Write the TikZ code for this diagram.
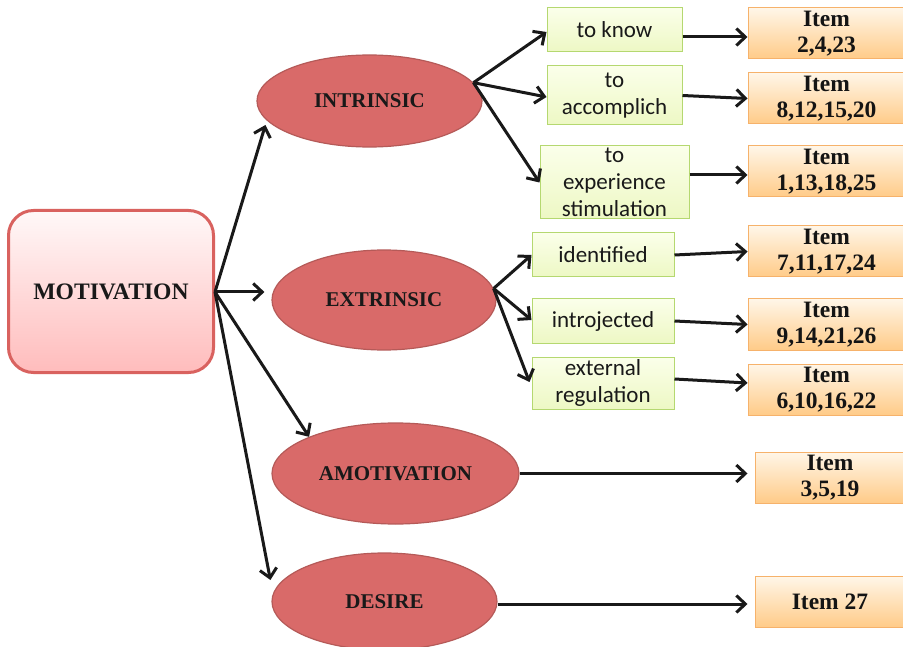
\documentclass[tikz,border=0pt]{standalone}
\usepackage{fontspec}
\setmainfont{Liberation Serif}
\newfontfamily\calfont{Carlito}
\usetikzlibrary{shapes.geometric,arrows.meta}
\definecolor{ellfill}{HTML}{D96A69}
\definecolor{ellborder}{HTML}{B55A58}
\definecolor{motborder}{HTML}{D9625F}
\definecolor{mottop}{HTML}{FFF8F8}
\definecolor{motbot}{HTML}{FFBCBC}
\definecolor{gborder}{HTML}{B5D870}
\definecolor{gtop}{HTML}{FBFFEA}
\definecolor{gbot}{HTML}{EDF8C4}
\definecolor{oborder}{HTML}{F6B26B}
\definecolor{otop}{HTML}{FFF6E8}
\definecolor{obot}{HTML}{FFCB88}
\begin{document}
\begin{tikzpicture}[x=1pt,y=-1pt,
 conn/.style={draw=black!90, line width=3pt, -{Straight Barb[length=9pt,width=17pt]}},
 ell/.style={ellipse, draw=ellborder, fill=ellfill, line width=1.2pt, inner sep=0pt,
   font=\fontsize{21}{24}\selectfont\bfseries, text=black!90},
 motbox/.style={rectangle, rounded corners=25pt, draw=motborder, line width=3pt,
   top color=mottop, bottom color=motbot, inner sep=0pt,
   font=\fontsize{23.6}{26}\selectfont\bfseries, text=black!90},
 greenbox/.style={rectangle, draw=gborder, line width=1pt, top color=gtop, bottom color=gbot,
   inner sep=0pt, font=\calfont\fontsize{23}{27}\selectfont, align=center, text=black!90},
 itembox/.style={rectangle, draw=oborder, line width=1pt, top color=otop, bottom color=obot,
   inner sep=0pt, font=\fontsize{23.5}{26}\selectfont\bfseries, align=center, text=black!92},
]
\useasboundingbox (0,0) rectangle (903,647);
\fill[white] (0,0) rectangle (903,647);

% main
\node[motbox, minimum width=205pt, minimum height=162pt] (mot) at (111,291.5) {MOTIVATION};

% ellipses
\node[ell, minimum width=225pt, minimum height=92pt] (intr) at (369.5,101) {INTRINSIC};
\node[ell, minimum width=224pt, minimum height=100pt] (extr) at (384,300) {EXTRINSIC};
\node[ell, minimum width=247pt, minimum height=101pt] (amot) at (395.5,473.5) {AMOTIVATION};
\node[ell, minimum width=225pt, minimum height=97pt] (des) at (384.5,601.5) {DESIRE};

% green boxes
\node[greenbox, minimum width=135pt, minimum height=44pt] (know) at (614.5,30) {to know};
\node[greenbox, minimum width=135pt, minimum height=59pt] (acc) at (614.5,95.5) {to\\accomplich};
\node[greenbox, minimum width=149pt, minimum height=73pt] (exp) at (614.5,182.5) {to\\experience\\stimulation};
\node[greenbox, minimum width=142pt, minimum height=44pt] (ide) at (603,255) {identified};
\node[greenbox, minimum width=142pt, minimum height=44pt] (intro) at (603,321) {introjected};
\node[greenbox, minimum width=142pt, minimum height=52pt] (ext) at (603,383) {external\\regulation};

% item boxes
\node[itembox, minimum width=157pt, minimum height=51pt] (i1) at (826.5,33.5) {Item\\2,4,23};
\node[itembox, minimum width=157pt, minimum height=51pt] (i2) at (826.5,98.5) {Item\\8,12,15,20};
\node[itembox, minimum width=157pt, minimum height=51pt] (i3) at (826.5,171.5) {Item\\1,13,18,25};
\node[itembox, minimum width=157pt, minimum height=51pt] (i4) at (826.5,251.5) {Item\\7,11,17,24};
\node[itembox, minimum width=157pt, minimum height=51pt] (i5) at (826.5,324.5) {Item\\9,14,21,26};
\node[itembox, minimum width=157pt, minimum height=51pt] (i6) at (826.5,389.5) {Item\\6,10,16,22};
\node[itembox, minimum width=150pt, minimum height=51pt] (i7) at (830,477.5) {Item\\3,5,19};
\node[itembox, minimum width=150pt, minimum height=51pt] (i8) at (830,602) {Item 27};

% connectors from MOTIVATION
\coordinate (m0) at ([yshift=-0.5pt]mot.east);
\draw[conn] (m0) -- ([xshift=9pt,yshift=-24pt]intr.west);
\draw[conn, shorten >=7pt] (m0) -- (m0 -| extr.west);
\draw[conn] (m0) -- (amot.157);
\draw[conn] (m0) -- ([xshift=-1pt,yshift=21.5pt]des.west);

% INTRINSIC branches
\coordinate (b1) at (intr.10);
\draw[conn] (b1) -- ([yshift=-2pt]know.west);
\draw[conn] (b1) -- ([yshift=-1.5pt]acc.west);
\draw[conn] (b1) -- (exp.west);

% EXTRINSIC branches
\coordinate (b2) at (extr.6);
\draw[conn] (b2) -- (ide.west);
\draw[conn] (b2) -- ([yshift=1pt]intro.west);
\draw[conn] (b2) -- ([xshift=-2pt,yshift=1pt]ext.west);

% to items
\coordinate (k1) at ([yshift=-7pt]know.east);
\draw[conn] (k1) -- (k1 -| i1.west);
\draw[conn] (acc.east) -- (i2.west);
\coordinate (e1) at ([yshift=7.5pt]exp.east);
\draw[conn] (e1) -- (e1 -| i3.west);
\draw[conn] (ide.east) -- (i4.west);
\draw[conn] (intro.east) -- (i5.west);
\draw[conn] ([yshift=4pt]ext.east) -- ([yshift=6.5pt]i6.west);
\draw[conn, shorten >=7pt] (amot.east) -- (amot.east -| i7.west);
\coordinate (d1) at ([yshift=-2.5pt]des.east);
\draw[conn, shorten >=7pt] (d1) -- (d1 -| i8.west);
\end{tikzpicture}
\end{document}
